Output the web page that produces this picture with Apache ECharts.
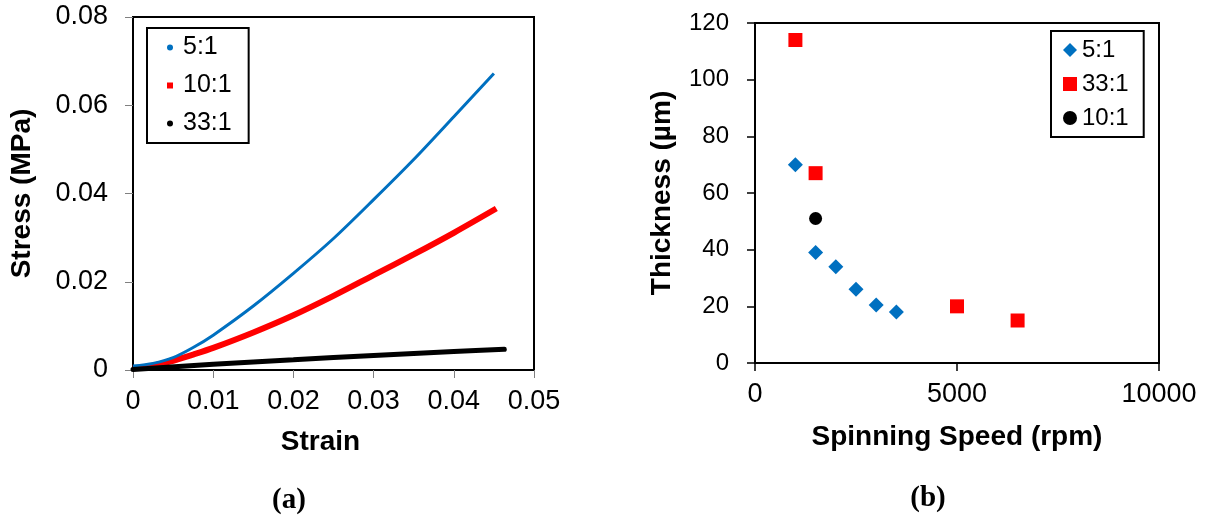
<!DOCTYPE html>
<html>
<head>
<meta charset="utf-8">
<script src="https://cdn.jsdelivr.net/npm/echarts@6/dist/echarts.min.js"></script>
<style>
  html, body { margin: 0; padding: 0; background: #fff; }
  #chart { width: 1206px; height: 518px; }
</style>
</head>
<body>
<div id="chart"></div>
<script>
// (a) stress-strain curves
const strain5 = [0, 0.0025, 0.005, 0.0075, 0.01, 0.015, 0.02, 0.025, 0.03, 0.035, 0.04, 0.045];
const stress5 = [0.0009, 0.0015, 0.0028, 0.0051, 0.0079, 0.0145, 0.0219, 0.0298, 0.0386, 0.0477, 0.0574, 0.0672];
const strain10 = [0, 0.0025, 0.005, 0.0075, 0.01, 0.015, 0.02, 0.025, 0.03, 0.035, 0.04, 0.0453];
const stress10 = [0.0004, 0.0010, 0.0021, 0.0035, 0.0050, 0.0085, 0.0124, 0.0168, 0.0215, 0.0262, 0.0311, 0.0366];
const strain33 = [0, 0.01, 0.02, 0.03, 0.04, 0.0463];
const stress33 = [0.0001, 0.0013, 0.0023, 0.0033, 0.0042, 0.0047];

// (b) thickness vs spinning speed
const speed5 = [1000, 1500, 2000, 2500, 3000, 3500];
const thick5 = [70, 39, 34, 26, 20.5, 18];
const speed33 = [1000, 1500, 5000, 6500];
const thick33 = [114, 67, 20, 15];
const speed10 = [1500];
const thick10 = [51];

const BLUE = '#0070C0';
const RED = '#FF0000';
const BLACK = '#000000';
const FONT = 'Liberation Sans, Arial, sans-serif';

function pairs(xs, ys) {
    return xs.map((x, i) => [x, ys[i]]);
}

const chart = echarts.init(document.getElementById('chart'));

const option = {
    animation: false,
    backgroundColor: '#fff',
    textStyle: {fontFamily: FONT, color: '#000'},
    grid: [
        {left: 133, right: 672, top: 17, bottom: 148, show: true, borderColor: '#000', borderWidth: 2},
        {left: 755, right: 47, top: 23, bottom: 155, show: true, borderColor: '#000', borderWidth: 2}
    ],
    xAxis: [
        {
            gridIndex: 0, type: 'value', min: 0, max: 0.05, interval: 0.01,
            name: 'Strain', nameLocation: 'middle', nameGap: 58,
            nameTextStyle: {fontSize: 28, fontWeight: 'bold', fontFamily: FONT, padding: [0, 26, 0, 0]},
            axisLine: {lineStyle: {color: '#000', width: 2}},
            axisTick: {show: true, length: 8, lineStyle: {color: '#808080', width: 1}},
            axisLabel: {fontSize: 27, color: '#000', margin: 18, fontFamily: FONT},
            splitLine: {show: false}
        },
        {
            gridIndex: 1, type: 'value', min: 0, max: 10000, interval: 5000,
            name: 'Spinning Speed (rpm)', nameLocation: 'middle', nameGap: 60,
            nameTextStyle: {fontSize: 28, fontWeight: 'bold', fontFamily: FONT},
            axisLine: {lineStyle: {color: '#000', width: 2}},
            axisTick: {show: true, length: 8, lineStyle: {color: '#000', width: 1.5}},
            axisLabel: {fontSize: 27, color: '#000', margin: 18, fontFamily: FONT, formatter: v => String(v)},
            splitLine: {show: false}
        }
    ],
    yAxis: [
        {
            gridIndex: 0, type: 'value', min: 0, max: 0.08, interval: 0.02,
            name: 'Stress (MPa)', nameLocation: 'middle', nameGap: 97,
            nameTextStyle: {fontSize: 28, fontWeight: 'bold', fontFamily: FONT},
            axisLine: {lineStyle: {color: '#000', width: 2}},
            axisTick: {show: true, length: 8, lineStyle: {color: '#808080', width: 1}},
            axisLabel: {fontSize: 27, color: '#000', margin: 25, fontFamily: FONT},
            splitLine: {show: false}
        },
        {
            gridIndex: 1, type: 'value', min: 0, max: 120, interval: 20,
            name: 'Thickness (µm)', nameLocation: 'middle', nameGap: 79,
            nameTextStyle: {fontSize: 28, fontWeight: 'bold', fontFamily: FONT},
            axisLine: {lineStyle: {color: '#000', width: 2}},
            axisTick: {show: true, length: 8, lineStyle: {color: '#000', width: 1.5}},
            axisLabel: {fontSize: 24, color: '#000', margin: 26, fontFamily: FONT},
            splitLine: {show: false}
        }
    ],
    legend: [
        {
            left: 147, top: 28, orient: 'vertical',
            padding: [7, 17, 7, 20], itemGap: 13,
            itemWidth: 6, itemHeight: 6,
            borderColor: '#000', borderWidth: 2, backgroundColor: '#fff',
            textStyle: {fontSize: 25, color: '#000', fontFamily: FONT, padding: [0, 0, 0, 5]},
            data: [
                {name: '5:1', icon: 'circle', itemStyle: {color: BLUE}},
                {name: '10:1', icon: 'rect', itemStyle: {color: RED}},
                {name: '33:1', icon: 'circle', itemStyle: {color: BLACK}}
            ]
        },
        {
            left: 1051, top: 31, orient: 'vertical',
            padding: [7, 15, 7, 12], itemGap: 10,
            itemWidth: 14, itemHeight: 14,
            borderColor: '#000', borderWidth: 2, backgroundColor: '#fff',
            textStyle: {fontSize: 24, color: '#000', fontFamily: FONT},
            data: [
                {name: '5:1', icon: 'diamond', itemStyle: {color: BLUE}},
                {name: '33:1', icon: 'rect', itemStyle: {color: RED}},
                {name: '10:1', icon: 'circle', itemStyle: {color: BLACK}}
            ]
        }
    ],
    series: [
        {
            name: '5:1', type: 'line', xAxisIndex: 0, yAxisIndex: 0,
            data: pairs(strain5, stress5), smooth: 0.3, showSymbol: false,
            lineStyle: {color: BLUE, width: 3}, itemStyle: {color: BLUE}, z: 4
        },
        {
            name: '10:1', type: 'line', xAxisIndex: 0, yAxisIndex: 0,
            data: pairs(strain10, stress10), smooth: 0.3, showSymbol: false,
            lineStyle: {color: RED, width: 6}, itemStyle: {color: RED}, z: 3
        },
        {
            name: '33:1', type: 'line', xAxisIndex: 0, yAxisIndex: 0,
            data: pairs(strain33, stress33), smooth: 0.3, showSymbol: false,
            lineStyle: {color: BLACK, width: 5, cap: 'round'}, itemStyle: {color: BLACK}, z: 5
        },
        {
            name: '5:1', type: 'scatter', xAxisIndex: 1, yAxisIndex: 1,
            data: pairs(speed5, thick5), symbol: 'diamond', symbolSize: 15,
            itemStyle: {color: BLUE, opacity: 1}
        },
        {
            name: '33:1', type: 'scatter', xAxisIndex: 1, yAxisIndex: 1,
            data: pairs(speed33, thick33), symbol: 'rect', symbolSize: 14,
            itemStyle: {color: RED, opacity: 1}
        },
        {
            name: '10:1', type: 'scatter', xAxisIndex: 1, yAxisIndex: 1,
            data: pairs(speed10, thick10), symbol: 'circle', symbolSize: 13,
            itemStyle: {color: BLACK, opacity: 1}
        }
    ],
    graphic: [
        {
            type: 'text', x: 289, y: 501,
            style: {text: '(a)', font: 'bold 29px "Liberation Serif", "Times New Roman", serif', fill: '#000', align: 'center', verticalAlign: 'middle'}
        },
        {
            type: 'text', x: 928, y: 499,
            style: {text: '(b)', font: 'bold 29px "Liberation Serif", "Times New Roman", serif', fill: '#000', align: 'center', verticalAlign: 'middle'}
        }
    ]
};

chart.setOption(option);
</script>
</body>
</html>
